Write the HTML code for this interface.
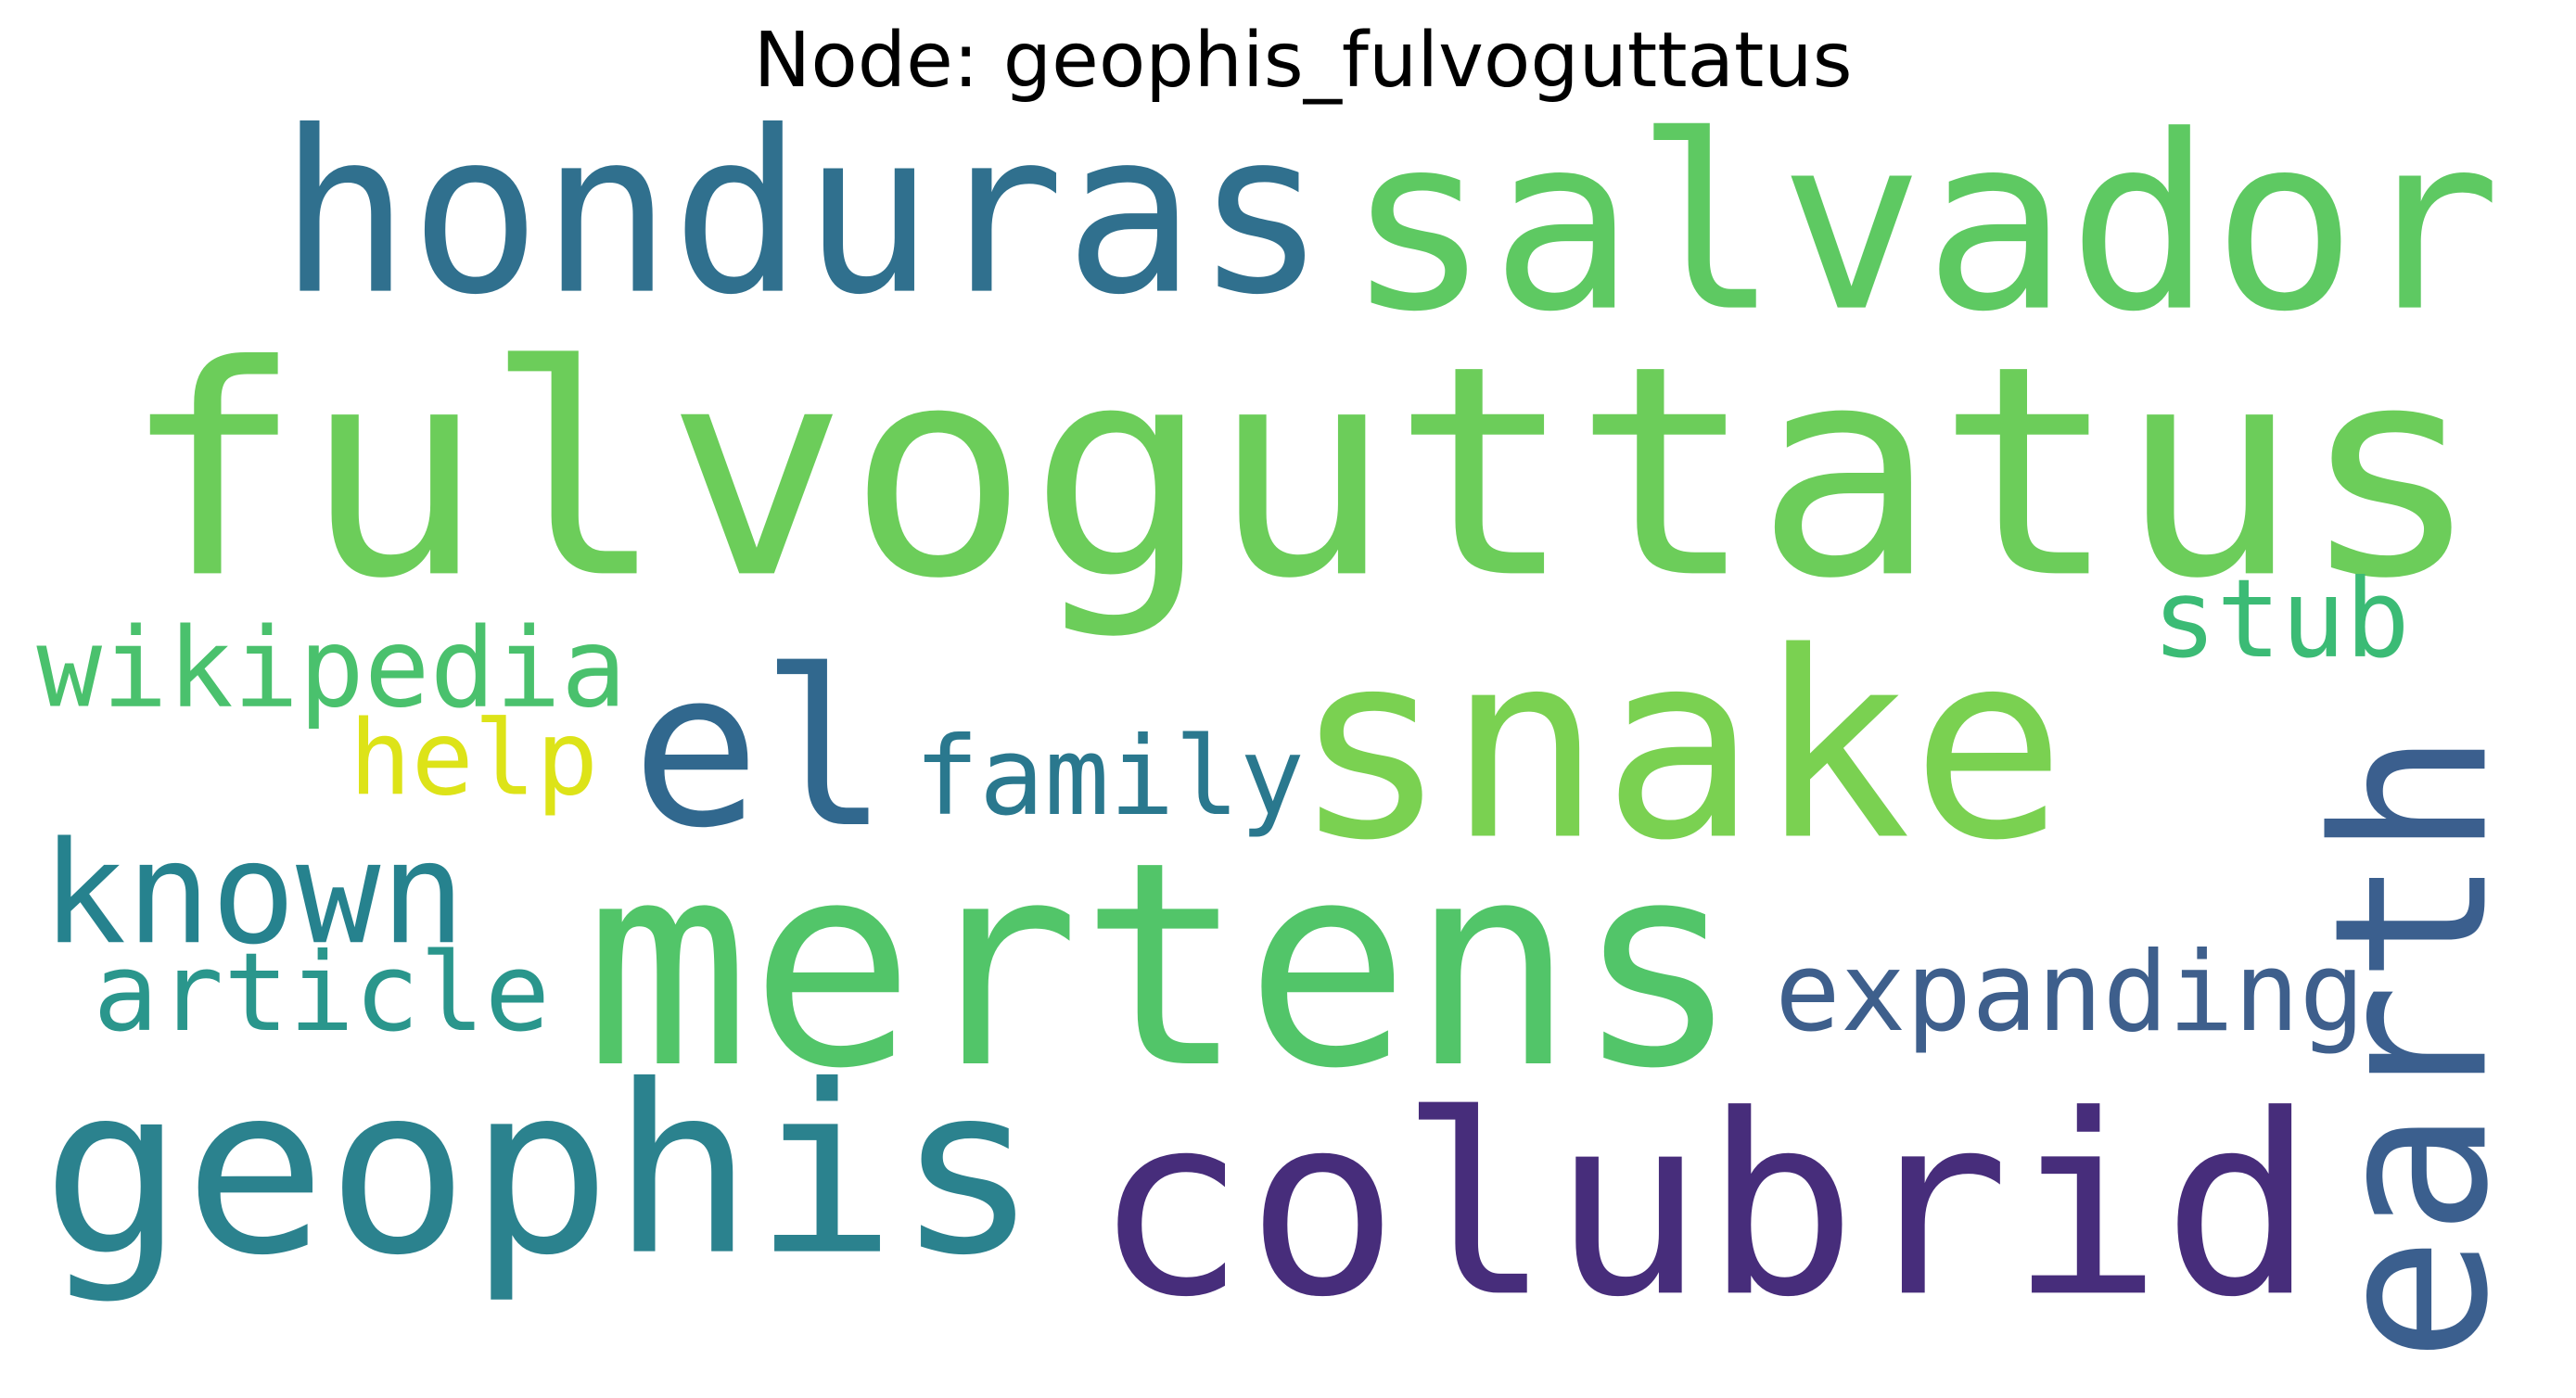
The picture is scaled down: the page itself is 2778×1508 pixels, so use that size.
<!DOCTYPE html>
<html><head><meta charset="utf-8"><style>
html,body{margin:0;padding:0;background:#fff;}
svg{display:block;}
text.w{font-family:"DejaVu Sans Mono","Liberation Mono",monospace;}
</style></head><body>
<svg width="2778" height="1508" viewBox="0 0 1550 841.4" xmlns="http://www.w3.org/2000/svg">
<rect width="1550" height="841.4" fill="#fff"/>
<text x="784" y="52" text-anchor="middle" font-family="DejaVu Sans, Liberation Sans, sans-serif" font-size="46" fill="#000">Node: geophis_fulvoguttatus</text>
<g id="words"></g>
</svg>
<script>
const words = ["honduras","salvador","fulvoguttatus","stub","wikipedia","help","el","family","snake","known","article","mertens","expanding","geophis","colubrid","earth"];
const sizes = [135,145,175,65,66,62,130,65,155,85,65,170,66,140,150,127];
const colors = ["#30708e","#5ec962","#6ccd5a","#3bbb75","#4ac16d","#dde318","#31688e","#2a788e","#7ad151","#26828e","#2a968c","#52c569","#3e5f8c","#2b828e","#472d7b","#3b5f8e"];
const layout = [[168,175,630],[810,185,695],[73,345,1420],[1295,395,155],[22,425,355],[210,478,150],[380,496,155],[550,490,235],[778,503,465],[25,567,255],[56,620,275],[352,640,695],[1068,620,355],[25,753,600],[658,778,735],[1495,820,380]];
const g = document.getElementById('words');
words.forEach((w,i)=>{
  const t = document.createElementNS('http://www.w3.org/2000/svg','text');
  
  
  t.setAttribute('class','w');
  const [x,y,len] = layout[i];
  t.setAttribute('font-size', sizes[i]);
  t.setAttribute('fill', colors[i]);
  t.setAttribute('textLength', len);
  t.setAttribute('lengthAdjust','spacingAndGlyphs');
  if (w === 'earth') {
    t.setAttribute('x', 0); t.setAttribute('y', 0);
    t.setAttribute('transform', 'translate(' + x + ',' + y + ') rotate(-90)');
  } else {
    t.setAttribute('x', x); t.setAttribute('y', y);
  }
  t.textContent = w;
  g.appendChild(t);
});
</script>
</body></html>
